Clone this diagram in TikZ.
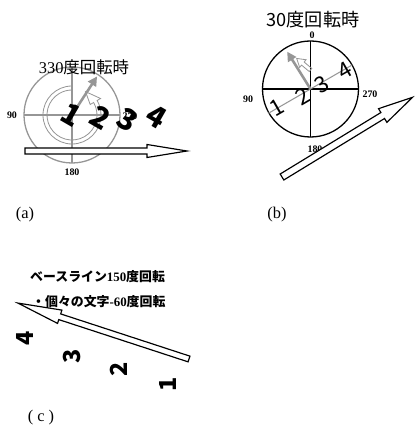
\documentclass[tikz,border=0pt]{standalone}
\usepackage{fontspec}
\setmainfont{Liberation Serif}
\newfontfamily\jpfont{Noto Sans CJK JP}
\usetikzlibrary{calc,arrows.meta}
\definecolor{rotgray}{RGB}{150,150,150}

\begin{document}
\begin{tikzpicture}[x=0.03cm,y=0.03cm,
  dial/.style={line width=1.1pt},
  deg/.style={inner sep=0pt,font=\bfseries\fontsize{8.5}{8.5}\selectfont},
  digitA/.style={inner sep=0pt,font=\jpfont\bfseries\fontsize{25}{25}\selectfont,rotate=-30},
  digitB/.style={inner sep=0pt,font=\jpfont\fontsize{19}{19}\selectfont,rotate=30},
  digitC/.style={inner sep=0pt,font=\jpfont\bfseries\fontsize{20}{20}\selectfont,rotate=90},
  hollow/.style={draw,line width=1pt,line join=miter,fill=white},
  upvec/.style={rotgray,line width=2.2pt,-{Triangle[length=8pt,width=8pt]}},
  spin/.style={draw=rotgray,line width=0.7pt,line join=miter},
  panel/.style={inner sep=0pt,font=\fontsize{14}{14}\selectfont}]
\useasboundingbox (0,0) rectangle (414,425);
% (a) 330 degrees
\coordinate (A) at (72,310);
\begin{scope}[shift={(A)},rotgray,dial]
\draw (0,0) circle[radius=48];
\draw (-48,0) -- (48,0); \draw (0,-48) -- (0,48);
\draw[spin] (90:29) arc[start angle=90,end angle=390,radius=29] -- (30:33) -- (60:27) -- (30:21) -- (30:25) arc[start angle=390,end angle=90,radius=25] -- cycle;
\draw[upvec] (0,0) -- (57:46);
\end{scope}
\node[font=\fontsize{14}{14}\selectfont,inner sep=0pt] (titleA) at (84,358) {330{\jpfont 度回転時}};
\foreach \t/\x/\y in {90/12/310,180/72/253,270/130/309}{\node[deg] (a\t) at (\x,\y) {\t};}
\foreach \d/\x/\y in {1/72/310,2/101/307,3/128/305,4/157/308}{\node[digitA] (ad\d) at (\x,\y) {\d};}
\begin{scope}[shift={(25,274)}]
\draw[hollow] (0,-3) -- (122,-3) -- (122,-6.5) -- (162,0) -- (122,6.5) -- (122,3) -- (0,3) -- cycle;
\end{scope}
\node[panel] (capA) at (25,210) {(a)};
% (b) 30 degrees
\coordinate (B) at (310.5,336);
\begin{scope}[shift={(B)}]
\draw[dial] (0,0) circle[radius=48];
\draw[dial] (-48,0) -- (48,0); \draw[dial] (0,-48) -- (0,48);
\draw[rotgray,line width=0.9pt] (210:49) -- (30:48);
\begin{scope}[shift={(0,19)},rotate=140]
\draw[spin] (0,-2) -- (10,-2) -- (10,-5) -- (18,0) -- (10,5) -- (10,2) -- (0,2) -- cycle;
\end{scope}
\draw[upvec] (0,0) -- (122:44);
\end{scope}
\node[font=\jpfont\fontsize{15.5}{15.5}\selectfont,inner sep=0pt] (titleB) at (313,405) {30度回転時};
\foreach \t/\x/\y in {0/312/390,90/248/326,270/370/331,180/315/276}{\node[deg] (b\t) at (\x,\y) {\t};}
\foreach \d/\x/\y in {1/277/317,2/303/329,3/322/340,4/345/354}{\node[digitB] (bd\d) at (\x,\y) {\d};}
\begin{scope}[shift={(282,248)},rotate=31.4]
\draw[hollow] (0,-3.5) -- (118,-3.5) -- (118,-8) -- (153,0) -- (118,8) -- (118,3.5) -- (0,3.5) -- cycle;
\end{scope}
\node[panel] (capB) at (277,210) {(b)};
% (c) baseline 150, letters -60
\node[anchor=west,inner sep=0pt,font=\bfseries\fontsize{11}{11}\selectfont] (lineC1) at (30,148) {{\jpfont ベースライン}150{\jpfont 度回転}};
\node[anchor=west,inner sep=0pt,font=\bfseries\fontsize{11}{11}\selectfont] (lineC2) at (32,123) {{\jpfont ・個々の文字}-60{\jpfont 度回転}};
\begin{scope}[shift={(189,66)},rotate=161.9]
\draw[hollow] (0,-3) -- (136,-3) -- (136,-7) -- (180,0) -- (136,7) -- (136,3) -- (0,3) -- cycle;
\end{scope}
\foreach \d/\x/\y in {4/25/87,3/72/69,2/119/56,1/168/41}{\node[digitC] (cd\d) at (\x,\y) {\d};}
\node[panel] (capC) at (41,7) {( c )};
\end{tikzpicture}
\end{document}
